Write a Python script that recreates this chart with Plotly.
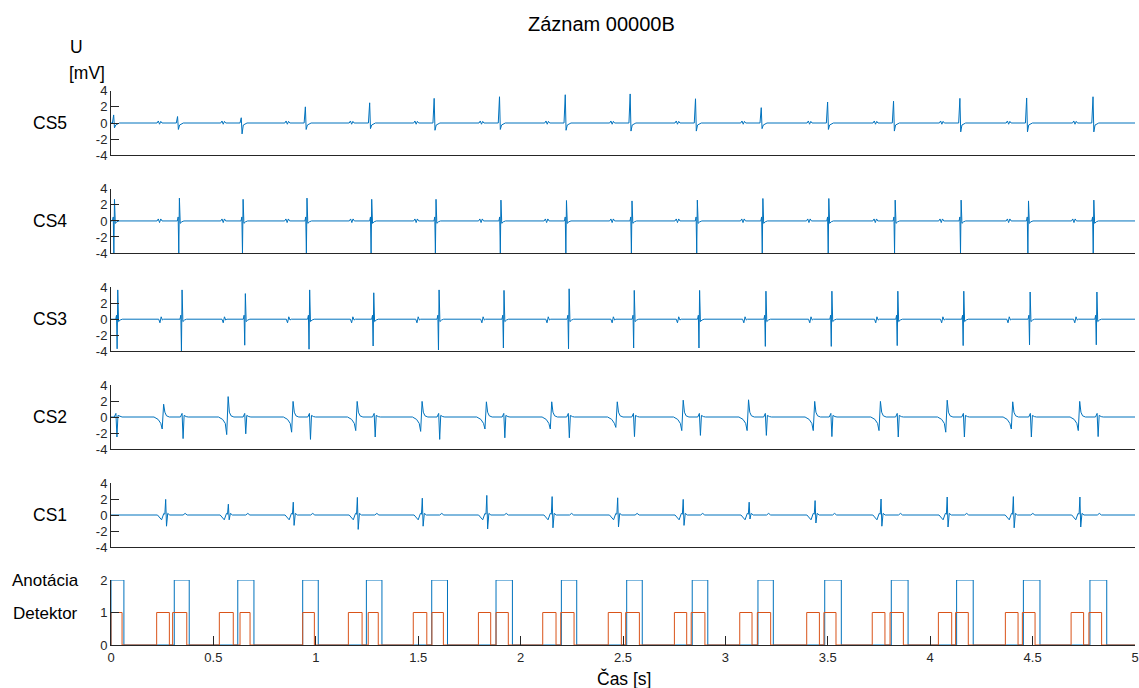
import plotly.graph_objects as go

# ---------------- data ----------------
channels = ["CS5", "CS4", "CS3", "CS2", "CS1"]

cs5_times = [0.015, 0.327, 0.638, 0.951, 1.265, 1.580, 1.899, 2.220, 2.537, 2.856, 3.177, 3.501, 3.823, 4.147, 4.473, 4.797]
cs5_up = [1.0, 0.8, 0.65, 2.0, 2.5, 3.05, 3.25, 3.5, 3.6, 3.0, 1.9, 2.6, 2.7, 3.05, 3.1, 3.25]
cs5_down = [-0.6, -0.8, -1.35, -0.8, -0.7, -0.9, -0.8, -0.9, -1.0, -1.0, -0.7, -0.8, -1.0, -1.1, -1.1, -1.1]

cs4_times = [0.015, 0.332, 0.643, 0.955, 1.271, 1.585, 1.902, 2.222, 2.542, 2.861, 3.181, 3.503, 3.827, 4.149, 4.478, 4.797]
cs4_up = [2.7, 2.85, 2.7, 2.85, 2.7, 2.7, 2.6, 2.55, 2.5, 2.6, 2.8, 2.8, 2.6, 2.6, 2.5, 2.6]
cs4_down = [-4.0] * 16

cs3_times = [0.031, 0.345, 0.654, 0.968, 1.281, 1.600, 1.917, 2.235, 2.553, 2.872, 3.196, 3.518, 3.840, 4.162, 4.486, 4.812]
cs3_up = [3.66, 3.66, 3.2, 3.66, 3.3, 3.66, 3.6, 3.8, 3.6, 3.6, 3.5, 3.5, 3.5, 3.5, 3.4, 3.4]
cs3_down = [-3.7, -4.0, -3.25, -3.75, -3.35, -3.85, -3.6, -3.7, -3.6, -3.6, -3.4, -3.4, -3.3, -3.3, -3.2, -3.2]

cs2_pos_times = [0.255, 0.570, 0.887, 1.200, 1.517, 1.831, 2.150, 2.470, 2.792, 3.111, 3.434, 3.755, 4.081, 4.401, 4.728]
cs2_pos_up = [1.6, 2.55, 1.95, 1.95, 1.95, 1.9, 1.9, 1.9, 2.1, 2.15, 1.95, 1.95, 2.1, 1.9, 1.95]
cs2_pos_dip = [-1.5, -2.2, -1.9, -1.7, -1.8, -1.5, -1.5, -1.3, -1.7, -1.7, -1.7, -1.7, -1.9, -1.5, -1.7]
cs2_neg_times = [0.030, 0.353, 0.659, 0.975, 1.291, 1.606, 1.924, 2.239, 2.557, 2.879, 3.201, 3.521, 3.845, 4.168, 4.495, 4.821]
cs2_neg_down = [-2.5, -2.7, -2.1, -2.8, -2.5, -2.8, -2.6, -2.6, -2.45, -2.3, -2.3, -2.45, -2.5, -2.5, -2.5, -2.45]

cs1_times = [0.267, 0.573, 0.890, 1.203, 1.520, 1.835, 2.154, 2.474, 2.794, 3.116, 3.438, 3.760, 4.083, 4.406, 4.731]
cs1_up = [1.95, 1.35, 1.6, 2.2, 2.1, 2.45, 2.3, 2.15, 1.95, 1.6, 1.8, 2.0, 2.25, 2.3, 2.25]
cs1_down = [-1.4, -0.6, -1.3, -1.8, -1.4, -1.75, -1.6, -1.5, -1.3, -0.5, -1.0, -1.4, -1.5, -1.6, -1.5]

# bottom panel: annotation (level 2) and detector (level 1) windows [start, end] in s
annot_start = [0.0, 0.309, 0.619, 0.936, 1.247, 1.566, 1.880, 2.199, 2.518, 2.838, 3.159, 3.485, 3.810, 4.129, 4.455, 4.780]
annot_end = [0.063, 0.382, 0.698, 1.012, 1.323, 1.643, 1.960, 2.274, 2.594, 2.914, 3.234, 3.566, 3.892, 4.210, 4.536, 4.862]
annot_level = 2
det_start = [0.0, 0.223, 0.301, 0.529, 0.630, 0.936, 1.159, 1.256, 1.476, 1.567, 1.794, 1.880, 2.108, 2.196,
             2.428, 2.513, 2.751, 2.833, 3.070, 3.156, 3.397, 3.481, 3.717, 3.804, 4.040, 4.124, 4.367, 4.450, 4.688, 4.775]
det_end = [0.054, 0.285, 0.370, 0.597, 0.679, 0.993, 1.226, 1.305, 1.542, 1.623, 1.854, 1.940, 2.173, 2.261,
           2.492, 2.580, 2.811, 2.900, 3.130, 3.221, 3.459, 3.540, 3.779, 3.869, 4.105, 4.186, 4.429, 4.512, 4.749, 4.837]
det_level = 1

x_ticks = [0, 0.5, 1, 1.5, 2, 2.5, 3, 3.5, 4, 4.5, 5]
x_tick_text = ["0", "0.5", "1", "1.5", "2", "2.5", "3", "3.5", "4", "4.5", "5"]
y_ticks = [-4, -2, 0, 2, 4]
y_tick_text = ["-4", "-2", "0", "2", "4"]
b_ticks = [0, 1, 2]
b_tick_text = ["0", "1", "2"]

T_END = 5.0
BLUE = "#0072BD"
ORANGE = "#D95319"
AX = "#262626"
FONT = "Liberation Sans, Arial, Helvetica, sans-serif"


# ---------------- build waveform polylines ----------------
def finish(pts):
    pts = [p for p in pts if 0 <= p[0] <= T_END]
    pts.sort(key=lambda p: p[0])
    pts = [(0.0, 0.0)] + pts + [(T_END, 0.0)]
    return [p[0] for p in pts], [p[1] for p in pts]


def spike_channel(times, ups, downs, wig, wig_off, down_first):
    pts = []
    for t, u, d in zip(times, ups, downs):
        w0 = t - wig_off
        pts += [(w0 - 0.012, 0), (w0 - 0.006, wig[0]), (w0, wig[1]), (w0 + 0.006, wig[2]), (w0 + 0.012, 0)]
        if down_first:
            pts += [(t - 0.008, 0), (t - 0.004, 0.5), (t - 0.001, d), (t + 0.002, u), (t + 0.006, -0.3),
                    (t + 0.014, -0.1), (t + 0.024, 0)]
        else:
            pts += [(t - 0.008, 0), (t - 0.002, u), (t + 0.002, d), (t + 0.008, -0.25),
                    (t + 0.016, -0.1), (t + 0.026, 0)]
    return finish(pts)


def cs2_channel():
    pts = []
    for t, u, d in zip(cs2_pos_times, cs2_pos_up, cs2_pos_dip):
        pts += [(t - 0.045, 0), (t - 0.025, -0.3), (t - 0.012, -0.8), (t - 0.005, d), (t + 0.002, u),
                (t + 0.008, 0.6), (t + 0.016, 0.15), (t + 0.03, 0)]
    for t, d in zip(cs2_neg_times, cs2_neg_down):
        pts += [(t - 0.014, 0), (t - 0.006, 0.45), (t - 0.001, d), (t + 0.004, 0.2), (t + 0.014, 0.05), (t + 0.024, 0)]
    return finish(pts)


def cs1_channel():
    pts = []
    for t, u, d in zip(cs1_times, cs1_up, cs1_down):
        pts += [(t - 0.04, 0), (t - 0.02, -0.6), (t - 0.009, 0.2), (t - 0.004, 0.1), (t, u), (t + 0.004, d),
                (t + 0.01, 0.2), (t + 0.02, 0), (t + 0.085, 0), (t + 0.095, 0.2), (t + 0.105, 0)]
    return finish(pts)


def pulses(starts, ends, level):
    pts = []
    for s, e in zip(starts, ends):
        pts += [(s, 0), (s, level), (e, level), (e, 0)]
    xs = [p[0] for p in pts] + [T_END]
    ys = [p[1] for p in pts] + [0]
    if xs[0] > 0:
        xs = [0.0] + xs
        ys = [0] + ys
    return xs, ys


signals = {
    "CS5": spike_channel(cs5_times, cs5_up, cs5_down, (0.25, -0.15, 0.2), 0.09, False),
    "CS4": spike_channel(cs4_times, cs4_up, cs4_down, (0.25, -0.2, 0.25), 0.095, True),
    "CS3": spike_channel(cs3_times, cs3_up, cs3_down, (-0.45, 0.3, -0.1), 0.10, True),
    "CS2": cs2_channel(),
    "CS1": cs1_channel(),
}

# ---------------- layout geometry (pixels) ----------------
W, H = 1139, 688
X0, X1 = 111, 1135
panel_px = {"CS5": (90.7, 155.3), "CS4": (188.9, 253.0), "CS3": (287.2, 351.2),
            "CS2": (385.0, 449.0), "CS1": (483.0, 547.0), "BOT": (580.0, 645.0)}


def ydom(top, bot):
    return [1 - bot / H, 1 - top / H]


fig = go.Figure()
layout = dict(width=W, height=H, margin=dict(l=0, r=0, t=0, b=0, autoexpand=False),
              paper_bgcolor="white", plot_bgcolor="white", showlegend=False,
              font=dict(family=FONT, color=AX, size=13))

names = channels + ["BOT"]
for i, name in enumerate(names):
    k = "" if i == 0 else str(i + 1)
    xa, ya = "xaxis" + k, "yaxis" + k
    top, bot = panel_px[name]
    is_bot = name == "BOT"
    layout[xa] = dict(domain=[X0 / W, X1 / W], range=[0, T_END], anchor="y" + k,
                      showline=True, linecolor=AX, linewidth=1, showgrid=False, zeroline=False,
                      ticks="inside" if is_bot else "", ticklen=9, tickcolor=AX,
                      tickvals=x_ticks, ticktext=x_tick_text, showticklabels=is_bot,
                      tickfont=dict(size=13, color=AX, family=FONT))
    layout[ya] = dict(domain=ydom(top, bot), anchor="x" + k,
                      range=[0, 2] if is_bot else [-4, 4],
                      tickvals=b_ticks if is_bot else y_ticks,
                      ticktext=b_tick_text if is_bot else y_tick_text,
                      showline=True, linecolor=AX, linewidth=1, showgrid=False, zeroline=False,
                      ticks="inside", ticklen=8, tickcolor=AX,
                      tickfont=dict(size=13, color=AX, family=FONT))
    if is_bot:
        ax_, ay_ = pulses(annot_start, annot_end, annot_level)
        fig.add_trace(go.Scatter(x=ax_, y=ay_, mode="lines", line=dict(color=BLUE, width=1),
                                 xaxis="x" + k, yaxis="y" + k, hoverinfo="skip"))
        dx_, dy_ = pulses(det_start, det_end, det_level)
        fig.add_trace(go.Scatter(x=dx_, y=dy_, mode="lines", line=dict(color=ORANGE, width=1),
                                 xaxis="x" + k, yaxis="y" + k, hoverinfo="skip"))
    else:
        sx, sy = signals[name]
        fig.add_trace(go.Scatter(x=sx, y=sy, mode="lines", line=dict(color=BLUE, width=1),
                                 xaxis="x" + k, yaxis="y" + k, hoverinfo="skip"))

annotations = []


def txt(text, x, y, size, xanchor="center"):
    annotations.append(dict(text=text, x=x / W, y=1 - y / H, xref="paper", yref="paper",
                            xanchor=xanchor, yanchor="middle", showarrow=False,
                            font=dict(size=size, color="black", family=FONT)))


txt("Záznam 00000B", 601, 24, 20)
txt("U", 68, 47, 17.5, "left")
txt("[mV]", 67, 73, 17.5, "left")
for name in channels:
    top, bot = panel_px[name]
    txt(name, 50, (top + bot) / 2, 17.5)
txt("Anotácia", 45, 580, 17, "center")
txt("Detektor", 45, 613, 17, "center")
txt("Čas [s]", 624, 678, 17.5)

layout["annotations"] = annotations
fig.update_layout(**layout)
fig.write_html(
    "out.html",
    config={"displayModeBar": False},
    post_script="document.body.style.margin='0px';document.body.style.overflow='hidden';"
                "document.documentElement.style.overflow='hidden';",
)
